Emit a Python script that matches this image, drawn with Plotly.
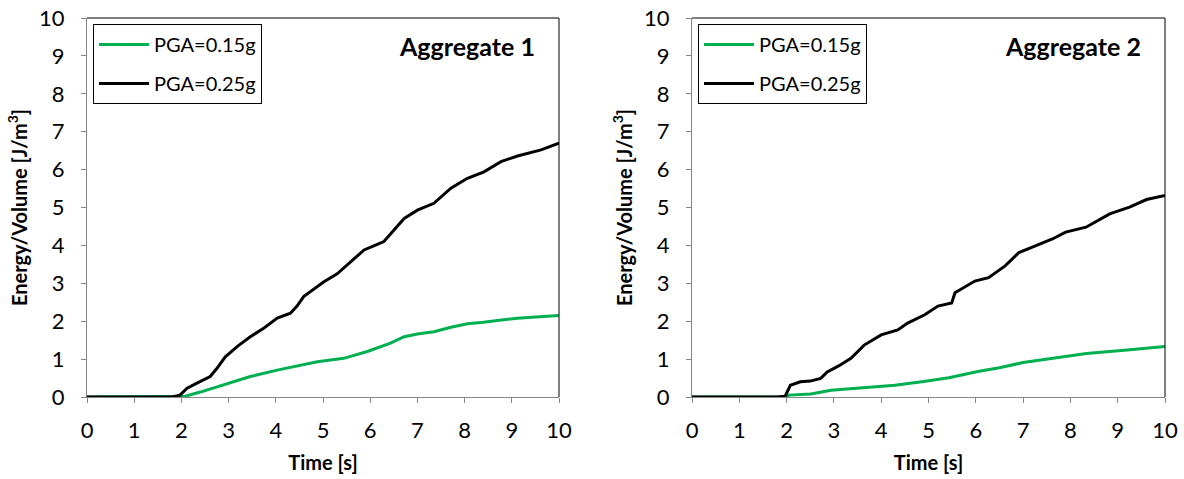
import plotly.graph_objects as go

# ---------------- data ----------------
t_a1_025 = [0, 1.8, 1.97, 2.12, 2.35, 2.61, 2.75, 2.93, 3.2, 3.46, 3.75, 4.03, 4.31, 4.45, 4.59, 4.8, 5.02, 5.3,
            5.51, 5.87, 6.1, 6.29, 6.5, 6.72, 7.0, 7.35, 7.71, 8.06, 8.41, 8.77, 9.12, 9.62, 10.0]
e_a1_025 = [0, 0, 0.05, 0.23, 0.38, 0.54, 0.75, 1.06, 1.35, 1.59, 1.82, 2.08, 2.21, 2.4, 2.65, 2.85, 3.04, 3.25,
            3.48, 3.88, 4.0, 4.10, 4.4, 4.71, 4.93, 5.11, 5.51, 5.77, 5.94, 6.21, 6.36, 6.52, 6.70]

t_a1_015 = [0, 2.0, 2.05, 2.4, 2.75, 3.1, 3.46, 4.03, 4.5, 4.88, 5.44, 5.94, 6.43, 6.72, 7.0, 7.35, 7.71, 8.06,
            8.4, 8.77, 9.12, 9.5, 10.0]
e_a1_015 = [0, 0, 0.01, 0.13, 0.26, 0.41, 0.54, 0.71, 0.83, 0.93, 1.02, 1.20, 1.42, 1.59, 1.66, 1.72, 1.84, 1.93,
            1.97, 2.03, 2.08, 2.11, 2.15]

t_a2_025 = [0, 1.8, 1.97, 2.08, 2.29, 2.5, 2.72, 2.86, 3.1, 3.36, 3.64, 4.0, 4.35, 4.56, 4.92, 5.2, 5.49, 5.56,
            5.98, 6.27, 6.62, 6.91, 7.26, 7.62, 7.90, 8.33, 8.83, 9.25, 9.61, 10.0]
e_a2_025 = [0, 0, 0.02, 0.31, 0.40, 0.42, 0.49, 0.66, 0.82, 1.02, 1.37, 1.64, 1.77, 1.95, 2.17, 2.40, 2.48, 2.75,
            3.06, 3.15, 3.46, 3.81, 3.99, 4.17, 4.35, 4.48, 4.83, 5.01, 5.21, 5.32]

t_a2_015 = [0, 2.0, 2.05, 2.51, 2.94, 3.6, 4.29, 4.9, 5.43, 6.07, 6.5, 7.0, 7.7, 8.34, 9.2, 10.0]
e_a2_015 = [0, 0, 0.05, 0.08, 0.18, 0.25, 0.31, 0.41, 0.51, 0.68, 0.77, 0.91, 1.03, 1.15, 1.24, 1.33]

series_names = ["PGA=0.15g", "PGA=0.25g"]
panel_titles = ["Aggregate 1", "Aggregate 2"]
tick_vals = list(range(0, 11))

GREEN = "#00B050"
BLACK = "#000000"
GRAY = "#868686"
FONT = "Lato, 'Open Sans', sans-serif"

fig = go.Figure()

fig.add_trace(go.Scatter(x=t_a1_015, y=e_a1_015, name=series_names[0], mode="lines", legendgroup="a1g",
                         line=dict(color=GREEN, width=3), xaxis="x", yaxis="y", legend="legend"))
fig.add_trace(go.Scatter(x=t_a1_025, y=e_a1_025, name=series_names[1], mode="lines", legendgroup="a1k",
                         line=dict(color=BLACK, width=3), xaxis="x", yaxis="y", legend="legend"))
fig.add_trace(go.Scatter(x=t_a2_015, y=e_a2_015, name=series_names[0], mode="lines", legendgroup="a2g",
                         line=dict(color=GREEN, width=3), xaxis="x2", yaxis="y2", legend="legend2"))
fig.add_trace(go.Scatter(x=t_a2_025, y=e_a2_025, name=series_names[1], mode="lines", legendgroup="a2k",
                         line=dict(color=BLACK, width=3), xaxis="x2", yaxis="y2", legend="legend2"))

W, H = 1184, 479
y_dom = [1 - 397 / H, 1 - 18 / H]
x1_dom = [87 / W, 559 / W]
x2_dom = [692 / W, 1165 / W]

def xax(domain, anchor):
    return dict(domain=domain, anchor=anchor, range=[0, 10], tickvals=tick_vals, automargin=False,
                showgrid=False, zeroline=False, showline=True, linecolor=GRAY, linewidth=1,
                ticks="outside", ticklen=5, tickcolor=GRAY, ticklabelstandoff=9,
                tickfont=dict(size=22, color="#000", family=FONT),
                title=dict(text="<b>Time [s]</b>", font=dict(size=20, color="#000", family=FONT), standoff=13))

def yax(anchor):
    return dict(domain=y_dom, anchor=anchor, range=[0, 10], tickvals=tick_vals, automargin=False,
                showgrid=False, zeroline=False, showline=True, linecolor=GRAY, linewidth=1,
                ticks="outside", ticklen=5, tickcolor=GRAY, ticklabelstandoff=12,
                tickfont=dict(size=22, color="#000", family=FONT),
                title=dict(text="<b>Energy/Volume [J/m<sup>3</sup>]</b>",
                           font=dict(size=20, color="#000", family=FONT), standoff=6))

legend_style = dict(bgcolor="white", bordercolor="#000", borderwidth=1,
                    font=dict(size=20, color="#000", family=FONT),
                    xanchor="left", yanchor="top", tracegroupgap=10, itemwidth=50,
                    traceorder="grouped")

fig.update_layout(
    width=W, height=H,
    margin=dict(l=0, r=0, t=0, b=0),
    paper_bgcolor="white", plot_bgcolor="white",
    xaxis=xax(x1_dom, "y"), yaxis=yax("x"),
    xaxis2=xax(x2_dom, "y2"), yaxis2=yax("x2"),
    legend=dict(x=93 / W, y=1 - 24 / H, **legend_style),
    legend2=dict(x=698 / W, y=1 - 24 / H, **legend_style),
    showlegend=True,
)

# plot-area border on top and right (black)
for xr, yr in [("x domain", "y domain"), ("x2 domain", "y2 domain")]:
    fig.add_shape(type="line", xref=xr, yref=yr, x0=0, x1=1, y0=1, y1=1, line=dict(color=BLACK, width=1))
    fig.add_shape(type="line", xref=xr, yref=yr, x0=1, x1=1, y0=0, y1=1, line=dict(color=BLACK, width=1))

for title, xr, yr in [(panel_titles[0], "x domain", "y domain"), (panel_titles[1], "x2 domain", "y2 domain")]:
    fig.add_annotation(text="<b>" + title + "</b>", xref=xr, yref=yr, x=0.953, y=0.926,
                       xanchor="right", yanchor="middle", showarrow=False,
                       font=dict(size=25, color="#000", family=FONT))

fig.write_html("out.html")
